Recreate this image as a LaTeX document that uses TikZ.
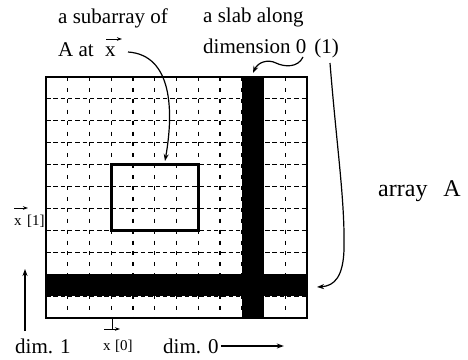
\documentclass[tikz,border=0pt]{standalone}
\usepackage{fontspec}
\setmainfont{Liberation Serif}
\usetikzlibrary{arrows.meta}
\begin{document}
\begin{tikzpicture}[x=1pt,y=-1pt,
  lbl/.style={inner sep=0pt,anchor=base west,font=\fontsize{21}{21}\selectfont},
  sml/.style={inner sep=0pt,anchor=base west,font=\fontsize{15}{15}\selectfont},
  hgrid/.style={line width=1.1pt,dash pattern=on 4.5pt off 2.8pt},
  vgrid/.style={line width=1.1pt,dash pattern=on 4pt off 6.9pt},
  border/.style={line width=1.5pt},
  subbox/.style={line width=3pt},
  slab/.style={fill=black,draw=none},
  conn/.style={line width=1.2pt,-{Stealth[length=7pt,width=5pt]}},
  vecarr/.style={line width=1pt,-{Stealth[length=5pt,width=3.5pt]}}]
\useasboundingbox (0,0) rectangle (468,359);
\pgfmathsetmacro{\cw}{21.75}
\pgfmathsetmacro{\rh}{21.9}
% dashed interior grid
\foreach \i in {1,...,11}{
  \draw[vgrid] ({46+\i*\cw},77) -- ({46+\i*\cw},318);
}
\foreach \j in {1,...,10}{
  \draw[hgrid] (46,{77+\j*\rh}) -- (307,{77+\j*\rh});
}
% slabs
\fill[slab] ({46+9*\cw},77) rectangle ({46+10*\cw},318);
\fill[slab] (46,{77+9*\rh}) rectangle (307,{77+10*\rh});
% border
\draw[border] (46,77) rectangle (307,318);
% subarray
\draw[subbox] ({46+3*\cw},{77+4*\rh}) rectangle ({46+7*\cw},{77+7*\rh});
% labels
\node[lbl] (sub1) at (58,23) {a subarray of};
\node[lbl] (sub2) at (58,56) {A at};
\node[lbl] (subx) at (105,56) {x};
\draw[vecarr] (106,39) -- (122,39);
\node[lbl] (slab1) at (203,22) {a slab along};
\node[lbl] (slab2) at (203,53) {dimension 0\hspace{8pt}(1)};
\node[inner sep=0pt,anchor=base west,font=\fontsize{24}{24}\selectfont] (arr) at (378,196) {array\hspace{16pt}A};
\node[sml] (x1) at (14,225) {x};
\node[sml] (x1i) at (27,225) {[1]};
\draw[vecarr] (14,208) -- (28,208);
\node[sml] (x0) at (103,350) {x};
\node[sml] (x0i) at (115,350) {[0]};
\draw[line width=1pt] (112,318) -- (112,329);
\draw[vecarr] (104,329) -- (120,329);
\node[lbl] (dim1) at (15,353) {dim. 1};
\node[lbl] (dim0) at (163,353) {dim. 0};
% connectors
\coordinate (d1s) at (25,331);
\coordinate (d1e) at (25,269);
\draw[conn] (d1s) -- (d1e);
\draw[conn] ([xshift=2pt,yshift=7pt]dim0.base east) -- ++(63,0);
\coordinate (sa) at (128,52);
\coordinate (se) at (165,161);
\draw[conn] (sa) .. controls (172,55) and (174,110) .. (se);
\coordinate (wa) at (303,57);
\coordinate (wm) at (276,63);
\coordinate (we) at (253,73);
\draw[conn] (wa) .. controls (298,68) and (284,67) .. (wm) .. controls (268,59) and (258,62) .. (we);
\coordinate (ca) at (330,63);
\coordinate (cm) at (344,250);
\coordinate (ce) at (317,287);
\draw[conn] (ca) .. controls (337,150) and (345,200) .. (cm) .. controls (343,276) and (335,286) .. (ce);
\end{tikzpicture}
\end{document}
